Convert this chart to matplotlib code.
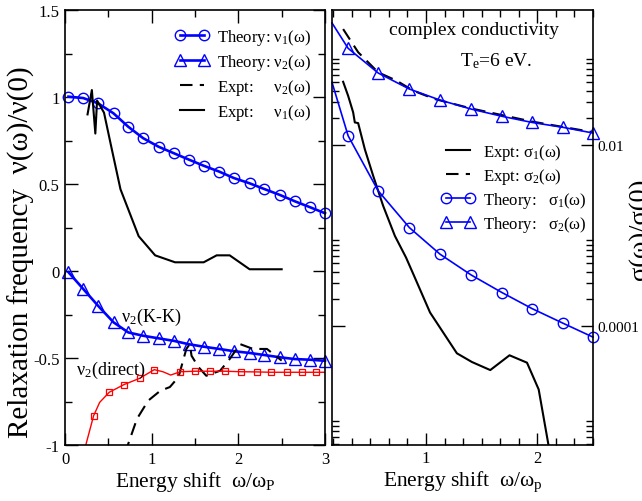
import numpy as np
import matplotlib
matplotlib.use('Agg')
import matplotlib.pyplot as plt
from matplotlib.ticker import FixedLocator, MultipleLocator, NullFormatter

plt.rcParams['font.family'] = ['Liberation Serif', 'DejaVu Serif']
plt.rcParams['mathtext.fontset'] = 'custom'
plt.rcParams['mathtext.rm'] = 'Liberation Serif'
plt.rcParams['mathtext.it'] = 'Liberation Serif:italic'

# ---- left panel: relaxation frequency ----
x_theory = [0.04, 0.21, 0.38, 0.56, 0.73, 0.90, 1.08, 1.26, 1.43, 1.60,
            1.78, 1.95, 2.13, 2.30, 2.48, 2.65, 2.83, 3.00]
nu1_theory = [1.002, 0.994, 0.964, 0.906, 0.829, 0.764, 0.714, 0.676, 0.640, 0.605,
              0.571, 0.534, 0.504, 0.471, 0.437, 0.401, 0.366, 0.332]
nu2_theory = [-0.007, -0.103, -0.199, -0.295, -0.353, -0.372, -0.387, -0.402, -0.421, -0.435,
              -0.448, -0.461, -0.471, -0.483, -0.496, -0.506, -0.510, -0.516]

x_nu1_expt = [0.26, 0.31, 0.35, 0.37, 0.45, 0.54, 0.64, 0.85, 1.04, 1.27,
              1.60, 1.75, 1.90, 2.13, 2.50]
nu1_expt = [0.90, 1.04, 0.79, 0.98, 0.91, 0.70, 0.47, 0.20, 0.09, 0.05,
            0.05, 0.09, 0.09, 0.01, 0.01]

x_nu2_expt = [0.69, 0.83, 0.96, 1.10, 1.21, 1.31, 1.40, 1.44, 1.46, 1.54,
              1.63, 1.79, 1.90, 2.02, 2.17, 2.33, 2.50]
nu2_expt = [-1.05, -0.85, -0.745, -0.688, -0.667, -0.609, -0.448, -0.42, -0.487, -0.552,
            -0.602, -0.573, -0.506, -0.42, -0.448, -0.448, -0.515]

x_direct = [0.24, 0.33, 0.40, 0.51, 0.68, 0.86, 1.03, 1.13, 1.22, 1.33,
            1.50, 1.67, 1.85, 2.03, 2.21, 2.38, 2.56, 2.73, 2.90, 3.00]
nu2_direct = [-1.0, -0.832, -0.755, -0.697, -0.653, -0.617, -0.567, -0.579, -0.598, -0.579,
              -0.576, -0.576, -0.576, -0.579, -0.580, -0.582, -0.582, -0.582, -0.582, -0.582]
direct_marks = [1, 3, 4, 5, 6, 9, 10, 11, 12, 13, 14, 15, 16, 17, 18]

# ---- right panel: complex conductivity ----
x_sig_line = [0.155, 0.30, 0.57, 0.85, 1.126, 1.405, 1.682, 1.952, 2.232, 2.50]
sig2_theory = [0.223, 0.117, 0.0625, 0.0416, 0.0314, 0.025, 0.0208, 0.0178, 0.0157, 0.0136]
sig1_theory = [0.0493, 0.01267, 3.13e-3, 1.23e-3, 6.25e-4, 3.69e-4, 2.36e-4, 1.57e-4, 1.08e-4, 7.6e-5]

x_sig2_expt = [0.255, 0.39, 0.57, 0.736, 0.886, 1.08, 1.405, 1.952, 2.50]
sig2_expt = [0.191, 0.106, 0.0635, 0.0514, 0.0398, 0.0322, 0.0254, 0.0182, 0.0139]

x_sig1_expt = [0.255, 0.30, 0.345, 0.36, 0.39, 0.45, 0.525, 0.615, 0.72, 0.82,
               0.886, 1.036, 1.277, 1.412, 1.577, 1.75, 1.907, 2.012, 2.10, 2.13]
sig1_expt = [0.05, 0.035, 0.023, 0.0178, 0.0175, 9.0e-3, 4.58e-3, 2.13e-3, 9.95e-4, 5.75e-4,
             3.76e-4, 1.42e-4, 5.04e-5, 4.04e-5, 3.29e-5, 4.79e-5, 3.97e-5, 2.01e-5, 4.9e-6, 3e-6]

blue = '#0000ff'

fig = plt.figure(figsize=(6.42, 5.02), dpi=100)
ax1 = fig.add_axes([65 / 642, 56 / 502, 260 / 642, 435 / 502])
ax2 = fig.add_axes([332 / 642, 56 / 502, 261 / 642, 435 / 502])

# left
l1, = ax1.plot(x_theory, nu1_theory, '-', color=blue, lw=1.9, marker='o', ms=7.5,
               mfc='none', mec=blue, mew=1.0, label='Theory: ν$_1$(ω)', clip_on=False)
l2, = ax1.plot(x_theory, nu2_theory, '-', color=blue, lw=1.9, marker='^', ms=8,
               mfc='none', mec=blue, mew=1.0, label='Theory: ν$_2$(ω)', clip_on=False)
l3, = ax1.plot(x_nu2_expt, nu2_expt, '--', color='k', lw=1.5, dashes=(6, 3.5),
               label='Expt:     ν$_2$(ω)')
l4, = ax1.plot(x_nu1_expt, nu1_expt, '-', color='k', lw=1.5, label='Expt:     ν$_1$(ω)')
ax1.plot(x_direct, nu2_direct, '-', color='red', lw=1.0, marker='s', ms=4,
         mfc='none', mec='red', mew=0.9, markevery=direct_marks)

ax1.set_xlim(0, 3)
ax1.set_ylim(-1, 1.5)
ax1.set_xticks([0, 1, 2, 3])
ax1.set_xticklabels(['0', '1', '2', '3'])
ax1.set_yticks([-1, -0.5, 0, 0.5, 1, 1.5])
ax1.set_yticklabels(['-1', '-0.5', '0', '0.5', '1', '1.5'])
ax1.xaxis.set_minor_locator(MultipleLocator(0.5))
ax1.yaxis.set_minor_locator(MultipleLocator(0.25))
ax1.tick_params(which='both', direction='in', top=True, right=True, labelsize=12, width=1)
ax1.tick_params(which='major', length=9, pad=4)
ax1.tick_params(which='minor', length=5)
ax1.set_xlabel('Energy shift  ω/ω$_\\mathrm{P}$', fontsize=15.5, labelpad=2)
ax1.text(0.65, -0.26, 'ν$_2$(K-K)', fontsize=13, va='center')
ax1.text(0.13, -0.565, 'ν$_2$(direct)', fontsize=13, va='center')
ax1.legend(handles=[l1, l2, l3, l4], loc='upper right', bbox_to_anchor=(0.985, 0.985),
           frameon=False, fontsize=12, numpoints=2, handlelength=2.0,
           handletextpad=0.5, labelspacing=0.3, borderaxespad=0.2)

# right
r1, = ax2.plot(x_sig1_expt, sig1_expt, '-', color='k', lw=1.5, label='Expt: σ$_1$(ω)')
r2, = ax2.plot(x_sig2_expt, sig2_expt, '--', color='k', lw=1.5, dashes=(6, 3.5),
               label='Expt: σ$_2$(ω)')
r3, = ax2.plot(x_sig_line, sig1_theory, '-', color=blue, lw=1.2, marker='o', ms=7.5,
               mfc='none', mec=blue, mew=1.0, markevery=list(range(1, 10)),
               label='Theory:   σ$_1$(ω)', clip_on=False)
r4, = ax2.plot(x_sig_line, sig2_theory, '-', color=blue, lw=1.2, marker='^', ms=8,
               mfc='none', mec=blue, mew=1.0, markevery=list(range(1, 10)),
               label='Theory:   σ$_2$(ω)', clip_on=False)

ax2.set_yscale('log')
ax2.set_xlim(0.155, 2.5)
ax2.set_ylim(4.9e-6, 0.31)
ax2.set_xticks([1, 2])
ax2.set_xticklabels(['1', '2'])
ax2.xaxis.set_minor_locator(MultipleLocator(1 / 6))
ax2.yaxis.set_major_locator(FixedLocator([1e-6, 1e-4, 1e-2]))
ax2.set_yticklabels(['1e-06', '0.0001', '0.01'])
minor = [k * 10.0 ** m for m in (-6, -4, -2) for k in range(2, 10)]
ax2.yaxis.set_minor_locator(FixedLocator(minor))
ax2.yaxis.set_minor_formatter(NullFormatter())
ax2.tick_params(which='both', direction='in', top=True, right=True, left=True,
                labelleft=False, labelright=True, width=1)
ax2.tick_params(axis='x', labelsize=12)
ax2.tick_params(axis='y', labelsize=11, pad=3)
ax2.tick_params(which='major', length=9)
ax2.tick_params(which='minor', length=5)
ax2.set_xlabel('Energy shift  ω/ω$_\\mathrm{p}$', fontsize=15.5, labelpad=2)
ax2.text(0.544, 0.956, 'complex conductivity', transform=ax2.transAxes,
         fontsize=14, ha='center', va='center')
ax2.text(0.628, 0.885, 'T$_\\mathrm{e}$=6 eV.', transform=ax2.transAxes,
         fontsize=14, ha='center', va='center')
ax2.legend(handles=[r1, r2, r3, r4], loc='upper left', bbox_to_anchor=(0.38, 0.72),
           frameon=False, fontsize=12, numpoints=2, handlelength=2.0,
           handletextpad=0.5, labelspacing=0.25, borderaxespad=0.2)

for ax in (ax1, ax2):
    for s in ax.spines.values():
        s.set_linewidth(1.2)

fig.text(8 / 642, 250 / 502, 'Relaxation frequency  ν(ω)/ν(0)', rotation=90,
         fontsize=21, ha='left', va='center')
fig.text(629 / 642, 273 / 502, 'σ(ω)/σ(0)', rotation=90,
         fontsize=19, ha='left', va='center')

fig.savefig('out.png', dpi=100)
